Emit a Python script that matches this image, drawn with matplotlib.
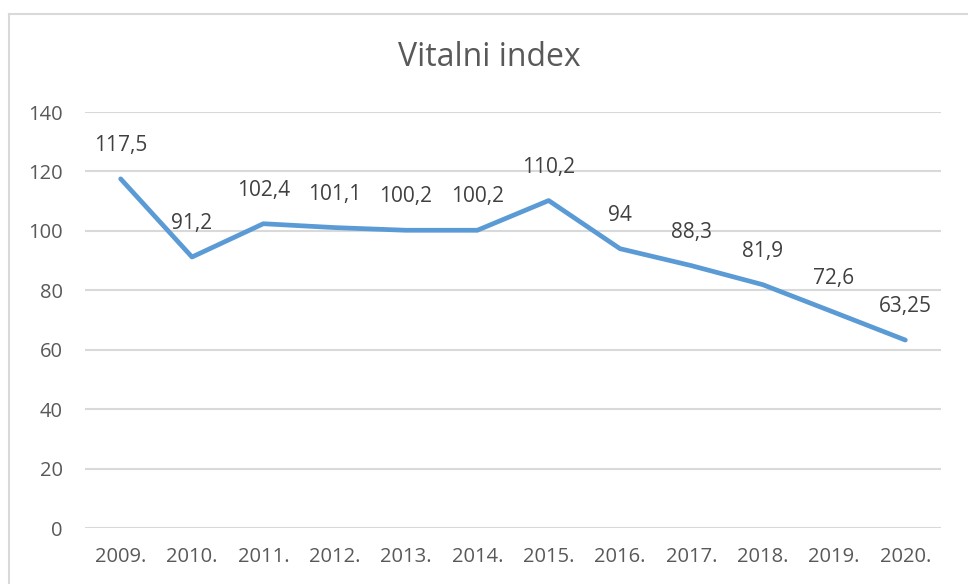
import matplotlib.pyplot as plt
from matplotlib.lines import Line2D

# --- Données ---
annees = ["2009.", "2010.", "2011.", "2012.", "2013.", "2014.",
          "2015.", "2016.", "2017.", "2018.", "2019.", "2020."]
vitalni_index = [117.5, 91.2, 102.4, 101.1, 100.2, 100.2,
                 110.2, 94, 88.3, 81.9, 72.6, 63.25]
y_ticks = [0, 20, 40, 60, 80, 100, 120, 140]

LINE_COLOR = "#5B9BD5"
GRID_COLOR = "#D9D9D9"
TEXT_COLOR = "#595959"
LABEL_COLOR = "#404040"

plt.rcParams["font.family"] = ["Open Sans", "DejaVu Sans"]

fig = plt.figure(figsize=(9.68, 5.84), dpi=100)
ax = fig.add_axes([85 / 968, 1 - 528 / 584, (941 - 85) / 968, (528 - 112) / 584])

# cadre du graphique (coupé à droite et en bas)
x0, y0 = 9 / 968, 1 - 14 / 584
fig.add_artist(Line2D([x0, x0], [y0, -0.1], color=GRID_COLOR, lw=1.5,
                      transform=fig.transFigure))
fig.add_artist(Line2D([x0, 1.1], [y0, y0], color=GRID_COLOR, lw=1.5,
                      transform=fig.transFigure))

x = list(range(len(annees)))
ax.plot(x, vitalni_index, color=LINE_COLOR, lw=3.4,
        solid_capstyle="round", solid_joinstyle="round", zorder=3)

# étiquettes de données (format virgule décimale)
for xi, v in zip(x, vitalni_index):
    txt = f"{v:g}".replace(".", ",")
    ax.annotate(txt, (xi, v), xytext=(0, 24), textcoords="offset points",
                ha="center", va="center", fontsize=15, color=LABEL_COLOR)

ax.set_xlim(-0.5, len(annees) - 0.5)
ax.set_ylim(0, 140)
ax.set_yticks(y_ticks)
ax.set_xticks(x)
ax.set_xticklabels(annees)
ax.yaxis.grid(True, color=GRID_COLOR, lw=1.5)
ax.set_axisbelow(True)
for s in ax.spines.values():
    s.set_visible(False)
ax.tick_params(length=0, labelsize=14.5, colors=TEXT_COLOR)
ax.tick_params(axis="y", pad=16)
ax.tick_params(axis="x", pad=14)

fig.text(489 / 968, 1 - 57 / 584, "Vitalni index", ha="center", va="center",
         fontsize=23, color=TEXT_COLOR)

fig.savefig("out.png", dpi=100)
